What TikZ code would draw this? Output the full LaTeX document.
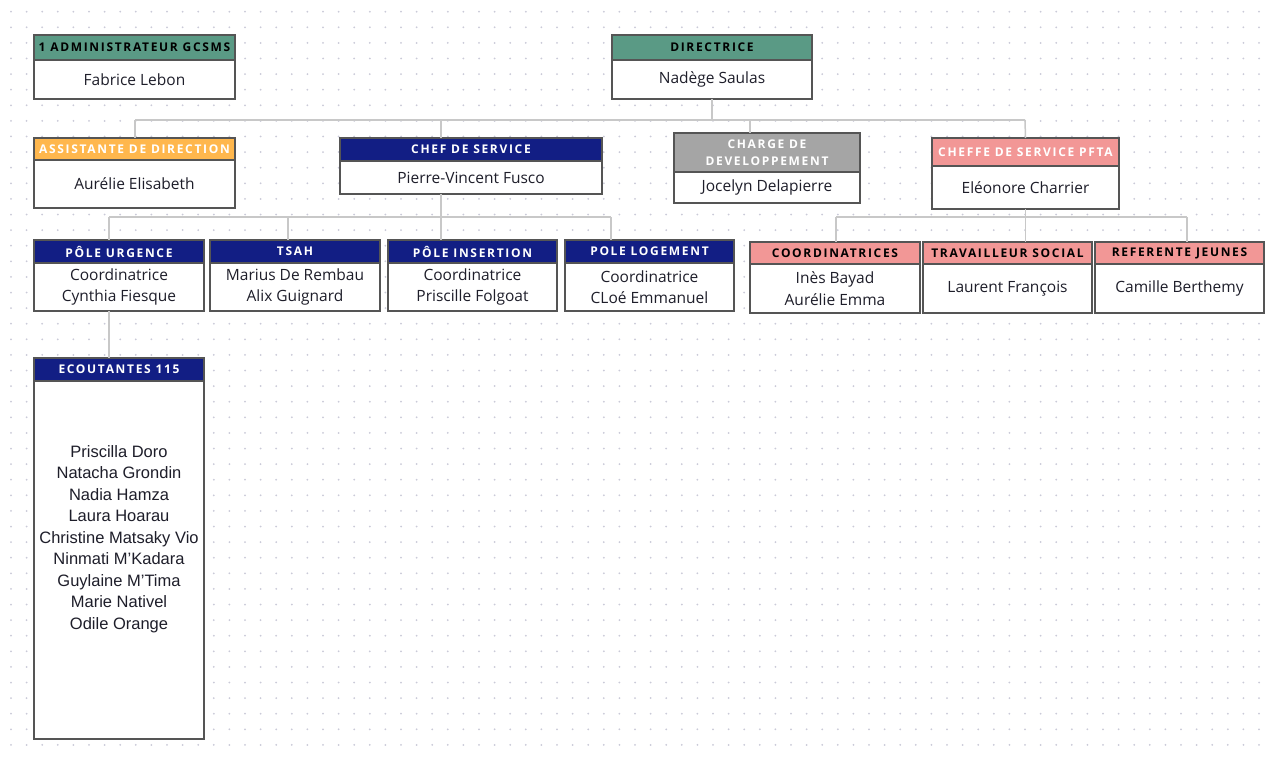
\documentclass[tikz,border=0pt]{standalone}
\usepackage{fontspec}
\setmainfont{Open Sans}
\newfontfamily\hfont[LetterSpace=14]{Open Sans}
\newfontfamily\lfont{Liberation Sans}
\definecolor{dotc}{HTML}{CACAD8}
\definecolor{connc}{HTML}{C8C8C8}
\definecolor{bordc}{HTML}{555555}
\definecolor{hgreen}{HTML}{5A9A85}
\definecolor{horange}{HTML}{FFB74D}
\definecolor{hnavy}{HTML}{121E84}
\definecolor{hgrey}{HTML}{A5A5A5}
\definecolor{hpink}{HTML}{F29796}
\definecolor{txtc}{HTML}{1E1E2A}
\tikzset{
  hbox/.style={draw=bordc,line width=1.3pt,inner sep=0pt,outer sep=0pt,align=center,
     font=\hfont\bfseries\fontsize{12}{17}\selectfont},
  bbox/.style={draw=bordc,line width=1.3pt,fill=white,inner sep=0pt,outer sep=0pt,align=center,
     text=txtc,font=\fontsize{15.5}{21.5}\selectfont},
  green/.style={fill=hgreen,text=black},
  orange/.style={fill=horange,text=white},
  navy/.style={fill=hnavy,text=white},
  grey/.style={fill=hgrey,text=white},
  pinkw/.style={fill=hpink,text=white},
  pinkb/.style={fill=hpink,text=black},
  conn/.style={draw=connc,line width=1.5pt},
}
% #1 name, #2 x1, #3 x2, #4 ytop, #5 y header bottom, #6 ybottom, #7 style, #8 header, #9 body
\newcommand{\obox}[9]{%
  \node[hbox,#7,minimum width=#3-#2,minimum height=#5-#4,anchor=north west] (#1-h) at (#2,#4) {#8};
  \node[bbox,minimum width=#3-#2,minimum height=#6-#5,anchor=north west] (#1) at (#2,#5) {#9};
}
\begin{document}
\begin{tikzpicture}[x=1pt,y=-1pt]
\useasboundingbox[fill=white] (0,0) rectangle (1266,757);
% dot grid
\foreach \i in {0,...,80} {
  \foreach \j in {0,...,47} {
    \fill[dotc] (11+\i*15.6,11.7+\j*15.6) circle (1pt);
  }
}
% junction coordinates
\coordinate (b1L) at (135,120);
\coordinate (b1R) at (1025,120);
\coordinate (b1D) at (712,120);
\coordinate (b1C) at (441,120);
\coordinate (b1V) at (750,120);
\coordinate (b2L) at (109,217);
\coordinate (b2R) at (611,217);
\coordinate (b2C) at (441,217);
\coordinate (b2T) at (288,217);
\coordinate (b3L) at (836,217);
\coordinate (b3R) at (1187,217);
\coordinate (b3C) at (1025,217);

% connectors
\draw[conn] (b1L) -- (b1R);
\draw[conn] (b2L) -- (b2R);
\draw[conn] (b3L) -- (b3R);

% boxes
\obox{admin}{34}{235}{35}{60}{99}{green}{1 ADMINISTRATEUR GCSMS}{Fabrice Lebon}
\obox{dir}{612}{812}{35}{60}{99}{green}{DIRECTRICE}{Nadège Saulas}
\obox{asst}{34}{235}{138}{160}{208}{orange}{ASSISTANTE DE DIRECTION}{Aurélie Elisabeth}
\obox{chef}{340}{602}{138}{161}{194}{navy}{CHEF DE SERVICE}{Pierre-Vincent Fusco}
\obox{dev}{674}{860}{133}{172}{203}{grey}{CHARGE DE\\DEVELOPPEMENT}{Jocelyn Delapierre}
\obox{pfta}{932}{1119}{138}{166}{209}{pinkw}{CHEFFE DE SERVICE PFTA}{Eléonore Charrier}
\obox{urg}{34}{204}{240}{263}{311}{navy}{PÔLE URGENCE}{Coordinatrice\\Cynthia Fiesque}
\obox{tsah}{210}{380}{240}{263}{311}{navy}{TSAH}{Marius De Rembau\\Alix Guignard}
\obox{ins}{388}{557}{240}{263}{311}{navy}{PÔLE INSERTION}{Coordinatrice\\Priscille Folgoat}
\obox{log}{565}{734}{240}{263}{311}{navy}{POLE LOGEMENT}{Coordinatrice\\CLoé Emmanuel}
\obox{coord}{750}{920}{242}{264}{313}{pinkb}{COORDINATRICES}{Inès Bayad\\Aurélie Emma}
\obox{trav}{923}{1092}{242}{264}{313}{pinkb}{TRAVAILLEUR SOCIAL}{Laurent François}
\obox{ref}{1095}{1264}{242}{264}{313}{pinkb}{REFERENTE JEUNES}{Camille Berthemy}
\obox{ecout}{34}{204}{358}{381}{739}{navy}{ECOUTANTES 115}{}
\node[align=center,text=txtc,font=\lfont\fontsize{16.5}{21.5}\selectfont,inner sep=0pt] (list) at (119,539)
 {Priscilla Doro\\Natacha Grondin\\Nadia Hamza\\Laura Hoarau\\Christine Matsaky Vio\\Ninmati M’Kadara\\Guylaine M’Tima\\Marie Nativel\\Odile Orange};

% vertical connectors
\draw[conn] (dir.south) -- (b1D);
\draw[conn] (b1L) -- (b1L |- asst-h.north);
\draw[conn] (b1C) -- (b1C |- chef-h.north);
\draw[conn] (b1V) -- (b1V |- dev-h.north);
\draw[conn] (b1R) -- (pfta-h.north);
\draw[conn] (b2C |- chef.south) -- (b2C);
\draw[conn] (b2L) -- (b2L |- urg-h.north);
\draw[conn] (b2T) -- (b2T |- tsah-h.north);
\draw[conn] (b2C) -- (b2C |- ins-h.north);
\draw[conn] (b2R) -- (b2R |- log-h.north);
\draw[conn] (pfta.south) -- (trav-h.north -| pfta.south);
\draw[conn] (b3L) -- (b3L |- coord-h.north);
\draw[conn] (b3R) -- (b3R |- ref-h.north);
\draw[conn] (b2L |- urg.south) -- (b2L |- ecout-h.north);
\end{tikzpicture}
\end{document}
